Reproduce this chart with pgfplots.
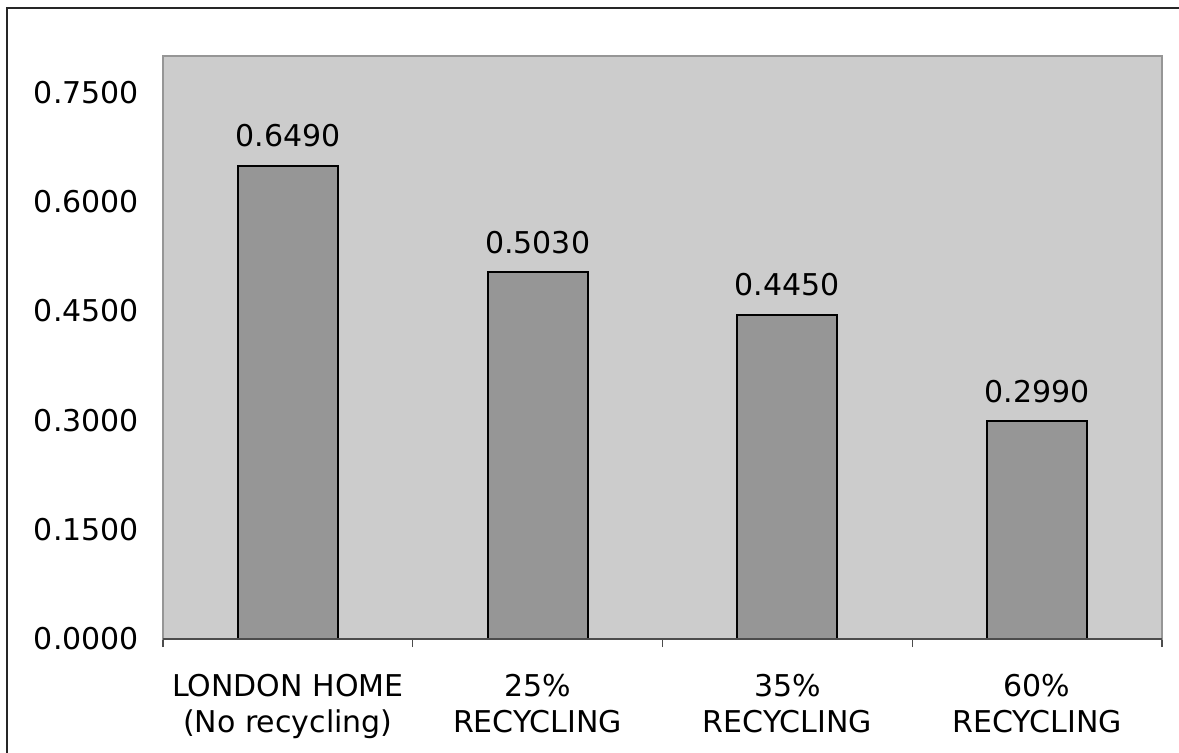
\documentclass[border=0pt]{standalone}
\usepackage{pgfplots}
\pgfplotsset{compat=1.18}
\usepackage{fontspec}
\setmainfont{DejaVu Sans}
\definecolor{plotbg}{RGB}{204,204,204}
\definecolor{barfill}{RGB}{150,150,150}
\definecolor{frameg}{RGB}{150,150,150}
\begin{document}
\begin{tikzpicture}[x=1pt,y=1pt]
\path[use as bounding box] (0,0) rectangle (589.5,376);
\draw[line width=1pt, black!85] (3.5,-2) -- (3.5,372) -- (592,372);
\begin{axis}[
  at={(81.5pt,56.5pt)}, anchor=south west,
  scale only axis, width=499.5pt, height=291.5pt,
  xmin=-0.5, xmax=3.5, ymin=0, ymax=0.8,
  axis background/.style={fill=plotbg},
  axis line style={frameg, line width=1pt},
  font=\fontsize{15}{18}\selectfont,
  /pgf/number format/assume math mode=true,
  ytick={0,0.15,0.3,0.45,0.6,0.75},
  yticklabel style={/pgf/number format/fixed, /pgf/number format/fixed zerofill, /pgf/number format/precision=4, xshift=-4.5pt},
  y tick style={draw=none},
  xtick pos=bottom,
  xtick={-0.5,0.5,1.5,2.5,3.5},
  xticklabels={},
  tick align=outside,
  major tick length=4pt,
  x tick style={draw=black!70, line width=0.6pt},
  xticklabel style={align=center, yshift=-14pt},
  extra x ticks={0,1,2,3},
  extra x tick labels={{LONDON HOME\\(No recycling)},{25\%\\RECYCLING},{35\%\\RECYCLING},{60\%\\RECYCLING}},
  extra x tick style={major tick length=0pt},
  ybar, bar width=0.4,
  nodes near coords,
  nodes near coords style={/pgf/number format/fixed, /pgf/number format/fixed zerofill, /pgf/number format/precision=4},
  every node near coord/.append style={font=\fontsize{15}{18}\selectfont, yshift=5.5pt},
  clip=false,
]
\addplot[fill=barfill, draw=black, line width=1pt] coordinates {(0,0.649) (1,0.503) (2,0.445) (3,0.299)};
\draw[black!70, line width=1pt] (axis cs:-0.5,0) -- (axis cs:3.5,0);
\end{axis}
\end{tikzpicture}
\end{document}
